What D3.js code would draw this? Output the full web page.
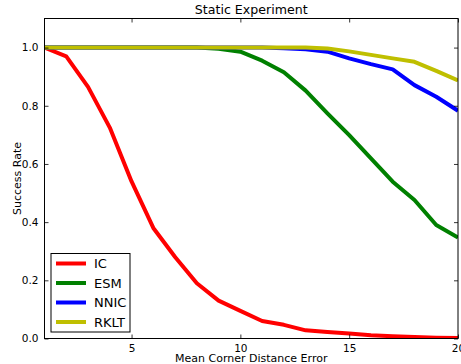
<!DOCTYPE html>
<html>
<head>
<meta charset="utf-8">
<script src="https://cdn.jsdelivr.net/npm/d3@7"></script>
<style>
  body { margin: 0; background: #fff; }
  text { font-family: 'DejaVu Sans', sans-serif; fill: #000; }
</style>
</head>
<body>
<svg id="chart"></svg>
<script>
const errors = d3.range(1, 21);
const seriesNames = ['IC', 'ESM', 'NNIC', 'RKLT'];
const seriesColors = ['#ff0000', '#008000', '#0000ff', '#bfbf00'];
const icValues = [1.0, 0.97, 0.865, 0.725, 0.54, 0.38, 0.28, 0.19, 0.13, 0.095, 0.06, 0.047, 0.028, 0.022, 0.017, 0.011, 0.008, 0.005, 0.003, 0.002];
const esmValues = [1.0, 1.0, 1.0, 1.0, 1.0, 1.0, 1.0, 1.0, 0.996, 0.986, 0.955, 0.915, 0.852, 0.774, 0.699, 0.619, 0.539, 0.476, 0.39, 0.347];
const nnicValues = [1.0, 1.0, 1.0, 1.0, 1.0, 1.0, 1.0, 1.0, 1.0, 1.0, 1.0, 0.998, 0.994, 0.986, 0.963, 0.943, 0.925, 0.871, 0.831, 0.783];
const rkltValues = [1.0, 1.0, 1.0, 1.0, 1.0, 1.0, 1.0, 1.0, 1.0, 1.0, 1.0, 1.0, 1.0, 0.997, 0.987, 0.975, 0.963, 0.951, 0.92, 0.887];
const xTicks = [5, 10, 15, 20];
const yTicks = [0, 0.2, 0.4, 0.6, 0.8, 1.0];

const width = 461;
const height = 364;
const marginLeft = 44.5;
const marginRight = 3;
const marginTop = 18.5;
const marginBottom = 25.5;

const x = d3.scaleLinear().domain([1, 20]).range([marginLeft, width - marginRight]);
const y = d3.scaleLinear().domain([0, 1.1]).range([height - marginBottom, marginTop]);

const svg = d3.select('#chart')
  .attr('width', width)
  .attr('height', height);

const series = [icValues, esmValues, nnicValues, rkltValues].map((values, i) => ({
  name: seriesNames[i],
  color: seriesColors[i],
  points: errors.map((e, j) => [e, values[j]])
}));

// lines, clipped to the axes
svg.append('clipPath').attr('id', 'clip')
  .append('rect')
  .attr('x', marginLeft).attr('y', marginTop)
  .attr('width', width - marginRight - marginLeft)
  .attr('height', height - marginBottom - marginTop);

const line = d3.line().x(d => x(d[0])).y(d => y(d[1]));

svg.append('g').attr('clip-path', 'url(#clip)')
  .selectAll('path')
  .data(series)
  .join('path')
  .attr('fill', 'none')
  .attr('stroke', d => d.color)
  .attr('stroke-width', 4)
  .attr('stroke-linejoin', 'round')
  .attr('d', d => line(d.points));

// axes (matplotlib style: inward ticks on all sides)
const styleAxis = (g) => {
  g.select('.domain').remove();
  g.selectAll('.tick line').attr('stroke', '#000').attr('stroke-width', 0.8);
  g.selectAll('.tick text').attr('font-size', '10.5px').attr('font-family', 'DejaVu Sans').attr('fill', '#222');
};

svg.append('g')
  .attr('transform', `translate(0,${height - marginBottom})`)
  .call(d3.axisBottom(x).tickValues(xTicks).tickSizeInner(-4).tickSizeOuter(0).tickPadding(6).tickFormat(d3.format('d')))
  .call(styleAxis);

svg.append('g')
  .attr('transform', `translate(0,${marginTop})`)
  .call(d3.axisTop(x).tickValues(xTicks).tickSizeInner(-4).tickSizeOuter(0).tickFormat(''))
  .call(styleAxis);

svg.append('g')
  .attr('transform', `translate(${marginLeft},0)`)
  .call(d3.axisLeft(y).tickValues(yTicks).tickSizeInner(-4).tickSizeOuter(0).tickPadding(6).tickFormat(d3.format('.1f')))
  .call(styleAxis);

svg.append('g')
  .attr('transform', `translate(${width - marginRight},0)`)
  .call(d3.axisRight(y).tickValues(yTicks).tickSizeInner(-4).tickSizeOuter(0).tickFormat(''))
  .call(styleAxis);

// frame
svg.append('rect')
  .attr('x', marginLeft).attr('y', marginTop)
  .attr('width', width - marginRight - marginLeft)
  .attr('height', height - marginBottom - marginTop)
  .attr('fill', 'none')
  .attr('stroke', '#000')
  .attr('stroke-width', 1);

// title and labels
svg.append('text')
  .attr('x', (marginLeft + width - marginRight) / 2)
  .attr('y', 13.5)
  .attr('text-anchor', 'middle')
  .attr('font-size', '12.6px')
  .text('Static Experiment');

svg.append('text')
  .attr('x', (marginLeft + width - marginRight) / 2)
  .attr('y', 362)
  .attr('text-anchor', 'middle')
  .attr('font-size', '11px')
  .text('Mean Corner Distance Error');

svg.append('text')
  .attr('transform', `translate(20.5,${(marginTop + height - marginBottom) / 2}) rotate(-90)`)
  .attr('text-anchor', 'middle')
  .attr('font-size', '11px')
  .text('Success Rate');

// legend
const legend = svg.append('g').attr('transform', 'translate(51,253.5)');
legend.append('rect')
  .attr('width', 79).attr('height', 78.5)
  .attr('fill', '#fff').attr('stroke', '#000').attr('stroke-width', 1);

const entry = legend.selectAll('g.entry')
  .data(series)
  .join('g')
  .attr('class', 'entry')
  .attr('transform', (d, i) => `translate(0,${10 + i * 19.5})`);

entry.append('line')
  .attr('x1', 5).attr('x2', 35)
  .attr('stroke', d => d.color)
  .attr('stroke-width', 4);

entry.append('text')
  .attr('x', 43)
  .attr('dy', '0.36em')
  .attr('font-size', '13px')
  .text(d => d.name);
</script>
</body>
</html>
